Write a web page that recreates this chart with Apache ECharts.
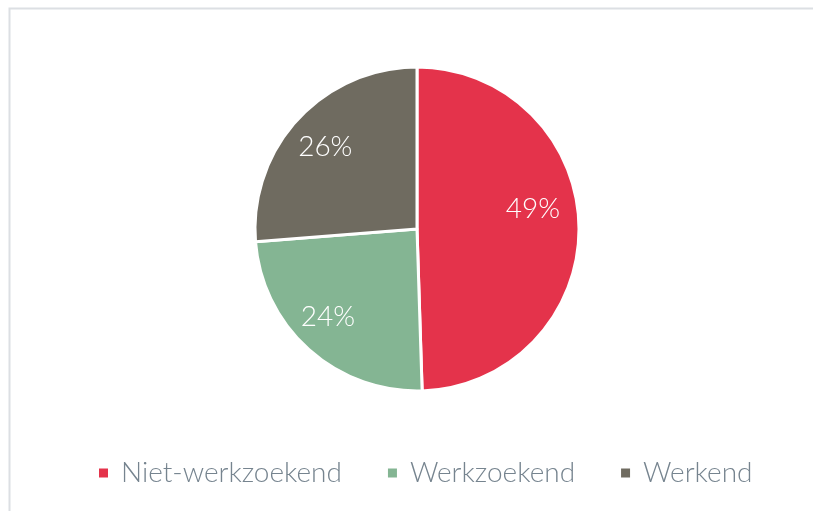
<!DOCTYPE html>
<html>
<head>
<meta charset="utf-8">
<script src="https://cdn.jsdelivr.net/npm/echarts@6/dist/echarts.min.js"></script>
<style>
    html, body { margin: 0; padding: 0; background: #fff; }
    #chart { width: 813px; height: 511px; }
</style>
</head>
<body>
<div id="chart"></div>
<script>
const categories = ['Niet-werkzoekend', 'Werkzoekend', 'Werkend']
const shares = [49, 24, 26]
const colors = ['#e4334b', '#84b593', '#6f6b60']

// nudge the inside labels to where the original places them
const labelShift = [[32, -19], [-33, 25], [-30, -25]]

const chart = echarts.init(document.getElementById('chart'))

const option = {
    animation: false,
    graphic: [
        {
            type: 'polyline',
            shape: { points: [[9.5, 520], [9.5, 8.5], [820, 8.5]] },
            style: { stroke: '#dcdfe3', lineWidth: 2, fill: null }
        }
    ],
    legend: {
        bottom: 19,
        left: 92,
        itemWidth: 11,
        itemHeight: 11,
        itemGap: 44,
        icon: 'rect',
        textStyle: {
            fontFamily: 'Lato',
            fontWeight: 300,
            fontSize: 28,
            color: '#76848f',
            padding: [0, 0, 0, 7]
        },
        data: categories
    },
    series: [{
        type: 'pie',
        center: [417, 229],
        radius: 162,
        startAngle: 90,
        clockwise: true,
        silent: true,
        itemStyle: {
            borderColor: '#fff',
            borderWidth: 3
        },
        label: {
            show: true,
            position: 'inside',
            formatter: '{c}%',
            color: '#fff',
            fontFamily: 'Lato',
            fontWeight: 300,
            fontSize: 28
        },
        labelLayout: params => {
            const s = labelShift[params.dataIndex]
            return { dx: s[0], dy: s[1] }
        },
        data: categories.map((name, i) => ({
            name: name,
            value: shares[i],
            itemStyle: { color: colors[i] }
        }))
    }]
}

chart.setOption(option)
</script>
</body>
</html>
